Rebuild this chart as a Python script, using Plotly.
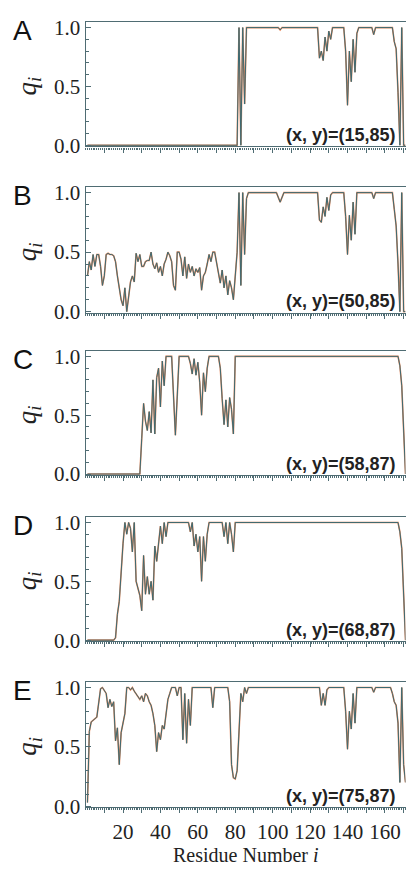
import plotly.graph_objects as go

# ---------------- data ----------------
panel_labels = ["A", "B", "C", "D", "E"]
panel_notes = ["(x, y)=(15,85)", "(x, y)=(50,85)", "(x, y)=(58,87)", "(x, y)=(68,87)", "(x, y)=(75,87)"]

xA = [1, 81, 82, 83, 84, 85, 86, 103, 104, 105, 124, 125, 126, 127, 128, 129, 130, 131, 132, 133,
      138, 139, 140, 141, 142, 143, 144, 145, 146, 153, 154, 155, 164, 165, 166, 167, 168, 169, 170, 171]
qA = [0, 0, 1.0, 0.0, 1.0, 0.35, 1.0, 1.0, 0.98, 1.0, 1.0, 0.74, 0.8, 0.72, 0.92, 0.8, 0.97, 0.9, 1.0, 1.0,
      1.0, 0.8, 0.34, 0.8, 0.54, 0.9, 0.62, 0.95, 1.0, 1.0, 0.94, 1.0, 1.0, 0.88, 0.82, 0.45, 0.0, 1.0, 0.0, 0.0]

xB = list(range(1, 88)) + [102, 104, 106, 124, 125, 126, 127, 128, 129, 130, 131, 132,
                           138, 139, 140, 141, 142, 143, 144, 145, 153, 154, 155, 164, 165, 166, 167, 168, 169, 170, 171]
qB = [0.3, 0.42, 0.35, 0.48, 0.38, 0.48, 0.48, 0.38, 0.22, 0.3,
      0.48, 0.49, 0.48, 0.48, 0.47, 0.42, 0.3, 0.2, 0.1, 0.05,
      0.2, 0.0, 0.15, 0.25, 0.3, 0.25, 0.49, 0.42, 0.48, 0.38,
      0.38, 0.42, 0.43, 0.43, 0.5, 0.4, 0.36, 0.41, 0.33, 0.38,
      0.3, 0.4, 0.44, 0.5, 0.47, 0.42, 0.22, 0.18, 0.5, 0.5,
      0.44, 0.3, 0.46, 0.28, 0.4, 0.33, 0.38, 0.3, 0.36, 0.33,
      0.37, 0.18, 0.3, 0.33, 0.4, 0.48, 0.42, 0.5, 0.5, 0.42,
      0.35, 0.24, 0.35, 0.2, 0.3, 0.14, 0.26, 0.2, 0.1, 0.28,
      0.5, 1.0, 0.22, 1.0, 0.48, 0.95, 1.0,
      1.0, 0.92, 1.0, 1.0, 0.77, 0.75, 0.88, 0.8, 0.96, 0.85, 0.98, 1.0,
      1.0, 0.8, 0.48, 0.81, 0.6, 0.92, 0.65, 1.0, 1.0, 0.95, 1.0, 1.0, 0.86, 0.72, 0.4, 0.0, 1.0, 0.0, 0.0]

xC = [1, 29, 30, 31, 32, 33, 34, 35, 36, 37, 38, 39, 40, 41, 42, 43, 44, 46, 48, 50,
      55, 56, 57, 58, 59, 60, 61, 62, 63, 64, 65, 66, 71, 72, 73, 74, 75, 76, 77, 78, 79, 80,
      167, 168, 169, 170, 171]
qC = [0, 0, 0.3, 0.6, 0.45, 0.37, 0.53, 0.35, 0.8, 0.34, 0.82, 0.9, 0.57, 0.96, 0.75, 1.0, 1.0, 1.0, 0.33, 1.0,
      1.0, 0.94, 0.85, 0.98, 0.84, 0.95, 0.78, 0.5, 0.86, 0.7, 0.9, 1.0, 1.0, 0.9, 0.64, 0.42, 0.63, 0.4, 0.65, 0.55, 0.34, 1.0,
      1.0, 0.92, 0.75, 0.4, 0.0]

xD = [1, 15, 16, 17, 18, 19, 20, 21, 22, 23, 24, 25, 26, 27, 28, 29, 30, 31, 32, 33, 34, 35, 36, 37, 38, 39,
      40, 41, 42, 43, 44, 55, 56, 57, 58, 59, 60, 61, 62, 63, 64, 65, 66, 73, 74, 75, 76, 77, 78, 79, 80,
      167, 168, 169, 170, 171]
qD = [0, 0, 0.02, 0.22, 0.33, 0.6, 0.82, 1.0, 0.9, 1.0, 0.95, 0.75, 1.0, 0.5, 0.44, 0.38, 0.25, 0.72, 0.39, 0.54,
      0.39, 0.5, 0.34, 0.8, 0.67, 0.85, 0.97, 0.82, 1.0, 0.88, 1.0, 1.0, 0.92, 1.0, 0.8, 0.9, 0.75, 0.88, 0.5, 0.88,
      0.67, 0.9, 1.0, 1.0, 0.88, 1.0, 0.82, 1.0, 0.9, 0.75, 1.0, 1.0, 0.92, 0.78, 0.4, 0.0]

xE = [1, 2, 3, 5, 6, 8, 9, 11, 12, 13, 14, 15, 16, 17, 18, 19, 20, 21, 22, 23, 24, 25, 26, 27, 28, 29, 30,
      31, 32, 33, 34, 35, 36, 37, 38, 39, 40, 41, 42, 43, 44, 45, 46, 48, 49, 50, 51, 52, 53, 54, 55, 56, 57,
      67, 68, 69, 76, 77, 78, 79, 80, 81, 82, 83, 84, 85, 86, 87, 125, 126, 127, 128, 129, 130,
      138, 139, 140, 141, 142, 143, 144, 145, 153, 154, 155, 163, 164, 165, 166, 167, 168, 169, 170, 171]
qE = [0.03, 0.63, 0.71, 0.74, 0.75, 0.99, 1.0, 0.95, 0.83, 0.9, 0.84, 0.88, 0.55, 0.66, 0.35, 0.62, 0.72, 0.78, 1.0,
      1.0, 0.98, 1.0, 0.97, 0.95, 0.92, 0.9, 0.93, 0.88, 0.95, 0.93, 0.88, 0.85, 0.78, 0.68, 0.46, 0.62, 0.56, 0.68,
      0.65, 0.8, 0.9, 0.95, 1.0, 1.0, 0.93, 1.0, 1.0, 0.56, 0.95, 0.53, 0.9, 0.68, 1.0,
      1.0, 0.83, 1.0, 1.0, 0.88, 0.35, 0.24, 0.23, 0.3, 0.7, 0.95, 0.88, 1.0, 0.95, 1.0, 1.0, 0.85, 0.95, 0.85, 0.98, 1.0,
      1.0, 0.8, 0.48, 0.8, 0.65, 0.95, 0.7, 1.0, 1.0, 0.96, 1.0, 1.0, 0.95, 0.88, 0.85, 0.7, 0.2, 1.0, 0.35, 0.2]

xs = [xA, xB, xC, xD, xE]
qs = [qA, qB, qC, qD, qE]

xtick_labeled = [20, 40, 60, 80, 100, 120, 140, 160]
xtick_all = [10, 20, 30, 40, 50, 60, 70, 80, 90, 100, 110, 120, 130, 140, 150, 160, 170]

# ---------------- layout constants ----------------
W, H = 408, 876
x_left_px, x_right_px = 85.6, 405.5
y_one_px = [22, 190.3, 357.3, 526.7, 695]
y_zero_px = [142, 311.7, 477.3, 646.7, 816]
YMIN, YMAX = -0.01, 1.045

TEAL = "#3c6a72"
ORANGE = "#e8895c"
AXC = "#4f6c73"
SERIF = "Liberation Serif, Times New Roman, serif"
SANS = "Liberation Sans, Arial, sans-serif"

fig = go.Figure()
layout = dict(width=W, height=H, margin=dict(l=0, r=0, t=0, b=0),
              plot_bgcolor="white", paper_bgcolor="white", showlegend=False)
annotations = []
xdom = [x_left_px / W, x_right_px / W]

for k in range(5):
    p1, p0 = y_one_px[k], y_zero_px[k]
    u = p0 - p1
    top = p1 - (YMAX - 1) * u
    bot = p0 - YMIN * u
    dom = [1 - bot / H, 1 - top / H]
    xa = "xaxis" if k == 0 else f"xaxis{k+1}"
    ya = "yaxis" if k == 0 else f"yaxis{k+1}"
    xr = "x" if k == 0 else f"x{k+1}"
    yr = "y" if k == 0 else f"y{k+1}"

    fig.add_trace(go.Scatter(x=xs[k], y=qs[k], mode="lines", xaxis=xr, yaxis=yr,
                             line=dict(color=ORANGE, width=1.6), hoverinfo="skip"))
    fig.add_trace(go.Scatter(x=xs[k], y=qs[k], mode="lines", xaxis=xr, yaxis=yr,
                             line=dict(color=TEAL, width=1.0)))

    xdef = dict(domain=xdom, range=[0, 171], anchor=yr,
                showline=True, linecolor=AXC, linewidth=1.2, mirror=True,
                showgrid=False, zeroline=False,
                ticks="outside", ticklen=5, tickcolor=AXC, tickwidth=1,
                tickfont=dict(family=SERIF, size=21, color="#222"),
                minor=dict(dtick=1, tick0=0, ticks="outside", ticklen=2, tickcolor=AXC, tickwidth=1))
    if k < 4:
        xdef.update(tickmode="array", tickvals=xtick_all, showticklabels=False)
    else:
        xdef.update(tickmode="array", tickvals=xtick_labeled,
                    ticktext=[str(v) for v in xtick_labeled], showticklabels=True)
    layout[xa] = xdef
    layout[ya] = dict(domain=dom, range=[YMIN, YMAX], anchor=xr,
                      showline=True, linecolor=AXC, linewidth=1.2, mirror=False,
                      showgrid=False, zeroline=False,
                      tickmode="linear", tick0=0, dtick=0.5, tickformat=".1f",
                      ticks="inside", ticklen=5, tickcolor=AXC, tickwidth=1,
                      tickfont=dict(family=SERIF, size=21, color="#222"),
                      minor=dict(dtick=0.1, tick0=0, ticks="inside", ticklen=3, tickcolor=AXC, tickwidth=1))

    annotations.append(dict(text=panel_labels[k], xref="paper", yref="paper",
                            x=11 / W, y=1 - (p1 + 3) / H, xanchor="left", yanchor="middle",
                            showarrow=False, font=dict(family=SANS, size=28, color="#111")))
    annotations.append(dict(text="<b>" + panel_notes[k] + "</b>", xref="paper", yref="paper",
                            x=398 / W, y=1 - (p0 - 10.5) / H, xanchor="right", yanchor="middle",
                            showarrow=False, font=dict(family=SANS, size=18, color="#222")))
    annotations.append(dict(text="<i>q<sub>i</sub></i>", xref="paper", yref="paper",
                            x=29 / W, y=1 - ((p1 + p0) / 2) / H, xanchor="center", yanchor="middle",
                            textangle=-90, showarrow=False,
                            font=dict(family=SERIF, size=27, color="#222")))

# extra overlay axis for the unlabeled ticks at odd tens on the bottom panel
layout["xaxis6"] = dict(domain=xdom, range=[0, 171], anchor="y5", overlaying="x5",
                        showline=False, showgrid=False, zeroline=False,
                        tickmode="array", tickvals=[v for v in xtick_all if v not in xtick_labeled],
                        ticks="outside", ticklen=5, tickcolor=AXC, tickwidth=1, showticklabels=False)
fig.add_trace(go.Scatter(x=[], y=[], xaxis="x6", yaxis="y5", mode="lines", hoverinfo="skip"))

annotations.append(dict(text="Residue Number <i>i</i>", xref="paper", yref="paper",
                        x=(x_left_px + x_right_px) / 2 / W, y=1 - 866 / H, xanchor="center", yanchor="middle",
                        showarrow=False, font=dict(family=SERIF, size=20, color="#222")))

layout["annotations"] = annotations
fig.update_layout(**layout)
fig.write_html("out.html", config={"displayModeBar": False},
               post_script="document.body.style.margin='0';document.body.style.overflow='hidden';")
